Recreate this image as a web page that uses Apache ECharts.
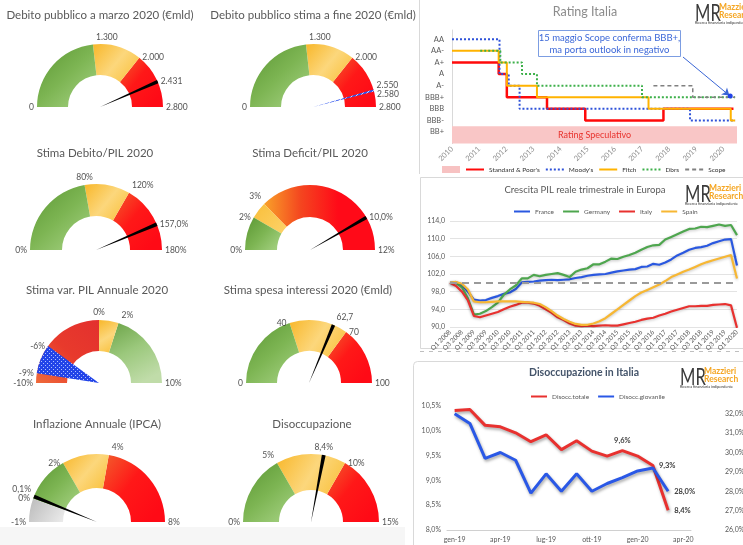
<!DOCTYPE html>
<html><head><meta charset="utf-8">
<script src="https://cdn.jsdelivr.net/npm/echarts/dist/echarts.min.js"></script>
<style>html,body{margin:0;padding:0;background:#fff;}#chart{width:743px;height:545px;}</style>
</head><body><div id="chart"></div>
<script>
// ================= DATA =================
const gaugeTitles = ['Debito pubblico a marzo 2020 (€mld)', 'Debito pubblico stima a fine 2020 (€mld)',
  'Stima Debito/PIL 2020', 'Stima Deficit/PIL 2020', 'Stima var. PIL Annuale 2020',
  'Stima spesa interessi 2020 (€mld)', 'Inflazione Annuale (IPCA)', 'Disoccupazione'];

const debMarBands = [0, 1300, 2000, 2800];
const debMarValue = 2431;
const debMarTicks = [0, 1300, 2000, 2431, 2800];
const debMarTickText = ['0', '1.300', '2.000', '2.431', '2.800'];

const debFineBands = [0, 1300, 2000, 2800];
const debFineRange = [2550, 2580];
const debFineTicks = [0, 1300, 2000, 2550, 2580, 2800];
const debFineTickText = ['0', '1.300', '2.000', '2.550', '2.580', '2.800'];

const debPilBands = [0, 80, 120, 180];
const debPilValue = 157;
const debPilTicks = [0, 80, 120, 157, 180];
const debPilTickText = ['0%', '80%', '120%', '157,0%', '180%'];

const defPilBands = [0, 2, 3, 12];
const defPilValue = 10;
const defPilTicks = [0, 2, 3, 10, 12];
const defPilTickText = ['0%', '2%', '3%', '10,0%', '12%'];

const pilVarBands = [-10, 0, 2, 10];
const pilVarRange = [-9, -6];
const pilVarTicks = [-10, -9, -6, 0, 2, 10];
const pilVarTickText = ['-10%', '-9%', '-6%', '0%', '2%', '10%'];

const intBands = [0, 40, 70, 100];
const intValue = 62.7;
const intTicks = [0, 40, 62.7, 70, 100];
const intTickText = ['0', '40', '62,7', '70', '100'];

const ipcaBands = [-1, 0, 2, 4, 8];
const ipcaValue = 0.1;
const ipcaTicks = [-1, 0, 0.1, 2, 4, 8];
const ipcaTickText = ['-1%', '0%', '0,1%', '2%', '4%', '8%'];

const disBands = [0, 5, 10, 15];
const disValue = 8.4;
const disTicks = [0, 5, 8.4, 10, 15];
const disTickText = ['0%', '5%', '8,4%', '10%', '15%'];

// Rating Italia
const ratingLevels = ['', 'BB+', 'BBB-', 'BBB', 'BBB+', 'A-', 'A', 'A+', 'AA-', 'AA'];
const spDates = [2010, 2011.72, 2012.02, 2013.5, 2014.91, 2017.79, 2020.37];
const spRatings = ['A+', 'A', 'BBB+', 'BBB', 'BBB-', 'BBB', 'BBB'];
const moodysDates = [2010, 2011.75, 2012.09, 2012.49, 2018.77, 2020.43];
const moodysRatings = ['AA', 'A', 'A-', 'BBB', 'BBB-', 'BBB-'];
const fitchDates = [2010, 2011.72, 2012.02, 2013.13, 2017.24, 2020.27, 2020.43];
const fitchRatings = ['AA-', 'A+', 'A-', 'BBB+', 'BBB', 'BBB-', 'BBB-'];
const dbrsDates = [2011.04, 2011.78, 2012.58, 2013.13, 2017.0, 2020.43];
const dbrsRatings = ['AA-', 'A+', 'A', 'A-', 'BBB+', 'BBB+'];
const scopeDates = [2017.42, 2018.87, 2020.43];
const scopeRatings = ['A-', 'BBB+', 'BBB+'];
const speculativeTop = 1.5;
const ratingYears = [2010, 2020.5];

// Crescita PIL
const quarters = ['Q1 2008','Q2 2008','Q3 2008','Q4 2008','Q1 2009','Q2 2009','Q3 2009','Q4 2009',
  'Q1 2010','Q2 2010','Q3 2010','Q4 2010','Q1 2011','Q2 2011','Q3 2011','Q4 2011',
  'Q1 2012','Q2 2012','Q3 2012','Q4 2012','Q1 2013','Q2 2013','Q3 2013','Q4 2013',
  'Q1 2014','Q2 2014','Q3 2014','Q4 2014','Q1 2015','Q2 2015','Q3 2015','Q4 2015',
  'Q1 2016','Q2 2016','Q3 2016','Q4 2016','Q1 2017','Q2 2017','Q3 2017','Q4 2017',
  'Q1 2018','Q2 2018','Q3 2018','Q4 2018','Q1 2019','Q2 2019','Q3 2019','Q4 2019','Q1 2020'];
const france = [100.0,100.1,99.6,98.0,96.2,96.0,96.1,96.6,97.0,97.5,97.8,98.6,100.1,100.2,100.3,100.5,100.6,100.7,100.6,100.7,
  100.8,101.1,101.3,101.6,101.8,101.9,102.0,102.3,102.6,102.8,103.0,103.1,103.6,103.7,104.3,104.1,104.6,105.3,106.2,106.8,
  107.5,107.9,108.1,108.4,109.0,109.4,109.8,109.9,103.9];
const germany = [100.0,100.0,99.0,96.5,92.8,93.0,93.6,94.5,95.5,97.3,98.5,99.4,101.0,101.0,101.8,101.5,101.8,102.0,102.2,101.8,
  101.3,102.5,103.0,103.3,104.2,104.2,104.8,105.5,105.4,105.9,106.3,106.8,107.5,108.1,108.5,108.6,109.8,110.4,111.0,111.6,
  112.2,112.3,112.7,112.6,112.9,113.2,112.9,113.1,110.8];
const italy = [100.0,99.3,98.0,96.0,92.5,92.2,92.6,93.0,93.4,94.0,94.6,95.0,95.5,95.5,95.3,94.8,94.0,93.2,92.2,91.6,
  90.8,90.3,90.2,90.3,90.2,90.3,90.4,90.3,90.3,90.6,90.9,91.2,91.6,91.9,92.1,92.6,93.0,93.5,93.9,94.3,
  94.7,94.7,94.8,94.8,95.0,95.1,95.2,94.9,89.8];
const spain = [100.0,100.2,99.8,98.5,95.8,95.6,95.6,95.7,95.8,95.8,95.8,95.8,95.7,95.6,95.5,95.2,94.5,93.6,92.6,91.8,
  91.2,90.7,90.5,90.5,90.8,91.3,92.0,93.0,94.0,95.0,96.0,97.0,97.8,98.4,99.0,99.6,100.4,101.3,101.9,102.5,
  103.0,103.6,104.2,104.7,105.1,105.5,105.9,106.3,101.0];
const pilBase = 100;

// Disoccupazione in Italia
const months = ['gen-19','feb-19','mar-19','apr-19','mag-19','giu-19','lug-19','ago-19','set-19','ott-19','nov-19','dic-19','gen-20','feb-20','mar-20','apr-20'];
const disoccTotale = [10.41,10.43,10.11,10.08,9.96,9.78,9.92,9.62,9.80,9.59,9.49,9.6,9.49,9.3,8.4];
const disoccGiovanile = [32.0,31.5,29.7,30.0,29.6,27.9,28.9,28.0,28.9,28.0,28.4,28.7,29.05,29.2,28.0];
const totaleLabelIdx = [11, 13, 14];
const giovanileLabelIdx = [14];

// ================= STYLE =================
const FONT = 'Lato, "Noto Sans", sans-serif';
function lg(x, y, x2, y2, cols) {
  return {type: 'linear', x: x, y: y, x2: x2, y2: y2, global: false,
    colorStops: cols.map((c, i) => ({offset: i / (cols.length - 1), color: c}))};
}
const GREEN = lg(0, 0, 1, 1, ['#5A9632', '#7DB553', '#A9D487']);
const YELLOW = lg(0, 0, 1, 1, ['#F8B72A', '#FCD77C', '#F9BE34']);
const RED = lg(0, 0, 1, 0.7, ['#F25E2C', '#FF1818', '#FF0A16']);
const ORANGE_RED = lg(0, 0, 1, 0, ['#F9A129', '#F4451F', '#FF0A18', '#FF0A18']);
const YELLOW_SOFT = lg(0, 0, 1, 1, ['#F9BE3A', '#FCD36A']);
const RED5 = lg(0, 1, 1, 0, ['#EF6A3A', '#E83A2C', '#E3302E']);
const GREEN5 = lg(0, 0, 0.6, 1, ['#6BA347', '#9BC87C', '#C0DCA9']);
const GRAY = lg(0, 0, 1, 1, ['#BBBBBB', '#EDEDED']);

function dotPattern() {
  const cv = document.createElement('canvas'); cv.width = 4; cv.height = 4;
  const ctx = cv.getContext('2d');
  ctx.fillStyle = '#2244E8'; ctx.fillRect(0, 0, 4, 4);
  ctx.fillStyle = '#AFC0FF'; ctx.fillRect(1, 1, 1, 1); ctx.fillRect(3, 3, 1, 1);
  return {image: cv, repeat: 'repeat'};
}
function hatchPattern() {
  const cv = document.createElement('canvas'); cv.width = 4; cv.height = 4;
  const ctx = cv.getContext('2d');
  ctx.fillStyle = '#2F55EE'; ctx.fillRect(0, 0, 4, 4);
  ctx.fillStyle = '#C9D4FF'; ctx.fillRect(0, 3, 1, 1); ctx.fillRect(1, 2, 1, 1); ctx.fillRect(2, 1, 1, 1); ctx.fillRect(3, 0, 1, 1);
  return {image: cv, repeat: 'repeat'};
}

const gauges = [
  {bands: debMarBands, needle: debMarValue, ticks: debMarTicks, text: debMarTickText},
  {bands: debFineBands, range: debFineRange, ticks: debFineTicks, text: debFineTickText},
  {bands: debPilBands, needle: debPilValue, ticks: debPilTicks, text: debPilTickText},
  {bands: defPilBands, needle: defPilValue, ticks: defPilTicks, text: defPilTickText},
  {bands: pilVarBands, range: pilVarRange, ticks: pilVarTicks, text: pilVarTickText},
  {bands: intBands, needle: intValue, ticks: intTicks, text: intTickText},
  {bands: ipcaBands, needle: ipcaValue, ticks: ipcaTicks, text: ipcaTickText},
  {bands: disBands, needle: disValue, ticks: disTicks, text: disTickText}
];
const gaugeLayout = [
  {tx: 100, ty: 15, c: [100, 107], r: 63, w: 31, colors: [GREEN, YELLOW, RED], pos: ['left', 'insideBottomLeft', 'right', 'right', 'right']},
  {tx: 313, ty: 15, c: [313, 107], r: 63, w: 31, colors: [GREEN, YELLOW, RED], pos: ['left', 'insideBottomLeft', 'right', 'right', 'right', 'right'], off: [null, null, null, [0, -4], [0, 3], null], fill: hatchPattern()},
  {tx: 95, ty: 153, c: [96, 250], r: 66, w: 32, colors: [GREEN, YELLOW, RED], pos: ['left', 'top', 'insideBottomLeft', 'right', 'right']},
  {tx: 310, ty: 153, c: [310, 250], r: 65, w: 32, colors: [GREEN, YELLOW_SOFT, ORANGE_RED], pos: ['left', 'left', 'insideBottomRight', 'right', 'right']},
  {tx: 97, ty: 290, c: [99, 383], r: 63, w: 31, colors: [RED5, YELLOW, GREEN5], pos: ['left', 'left', 'left', 'top', 'insideBottomLeft', 'right'], fill: dotPattern()},
  {tx: 308, ty: 290, c: [309, 383], r: 63, w: 31, colors: [GREEN, YELLOW, RED], pos: ['left', 'left', 'insideBottomLeft', 'right', 'right']},
  {tx: 97, ty: 424, c: [97, 522], r: 68, w: 34, colors: [GRAY, GREEN, YELLOW, RED], pos: ['left', 'left', 'insideBottomRight', 'left', 'insideBottomLeft', 'right']},
  {tx: 312, ty: 424, c: [311, 522], r: 68, w: 36, colors: [GREEN, YELLOW, RED], pos: ['left', 'insideBottomRight', 'top', 'right', 'right']}
];

const series = [], polar = [], angleAxis = [], radiusAxis = [];
gauges.forEach((g, i) => {
  const L = gaugeLayout[i];
  const min = g.bands[0], max = g.bands[g.bands.length - 1], span = max - min;
  const frac = v => (v - min) / span;
  const common = {type: 'gauge', center: L.c, radius: L.r, startAngle: 180, endAngle: 0, min: min, max: max,
    splitNumber: 1, silent: true, animation: false,
    splitLine: {show: false}, axisTick: {show: false}, axisLabel: {show: false}, pointer: {show: false},
    anchor: {show: false}, progress: {show: false}, title: {show: false}, detail: {show: false},
    data: [{value: min}]};
  series.push(Object.assign({}, common, {z: 2,
    axisLine: {lineStyle: {width: L.w, color: g.bands.slice(1).map((b, k) => [frac(b), L.colors[k]])}}}));
  let from, to, col;
  if (g.range) { from = g.range[0]; to = g.range[1]; col = L.fill; }
  else { from = g.needle - 0.009 * span; to = g.needle + 0.009 * span; col = '#000000'; }
  series.push(Object.assign({}, common, {z: 3,
    axisLine: {lineStyle: {width: L.r, color: [[frac(from), 'rgba(0,0,0,0)'], [frac(to), col], [1, 'rgba(0,0,0,0)']]}}}));
  polar.push({center: L.c, radius: L.r});
  angleAxis.push({polarIndex: i, type: 'value', min: min, max: min + 2 * span, startAngle: 180, clockwise: true,
    show: false, axisLine: {show: false}, axisTick: {show: false}, axisLabel: {show: false}, splitLine: {show: false}});
  radiusAxis.push({polarIndex: i, type: 'value', min: 0, max: 1, show: false,
    axisLine: {show: false}, axisTick: {show: false}, axisLabel: {show: false}, splitLine: {show: false}});
  series.push({type: 'scatter', coordinateSystem: 'polar', polarIndex: i, symbolSize: 0, z: 5, silent: true, animation: false,
    label: {show: true, fontSize: 8.5, color: '#1f1f1f', distance: 3, fontFamily: FONT, formatter: '{b}'},
    data: g.ticks.map((v, k) => ({value: [1, v], name: g.text[k],
      label: {position: L.pos[k], offset: (L.off && L.off[k]) || [0, 0]}}))});
});

// ---------- Rating Italia ----------
const lvl = r => ratingLevels.indexOf(r);
const stepData = (d, r) => d.map((x, k) => [x, lvl(r[k])]);
const ratingLine = (name, d, r, color, width, type) => ({
  name: name, type: 'line', xAxisIndex: 0, yAxisIndex: 0, step: 'end', symbol: 'none', z: 3,
  lineStyle: {color: color, width: width, type: type}, itemStyle: {color: color}, data: stepData(d, r)});
series.push({name: 'Rating Speculativo', type: 'line', xAxisIndex: 0, yAxisIndex: 0, data: [], symbol: 'none', z: 1,
  itemStyle: {color: '#F7C2C2'},
  markArea: {silent: true, itemStyle: {color: '#F9C6C6'},
    label: {show: true, position: 'inside', color: '#E8332E', fontSize: 9, fontFamily: FONT},
    data: [[{name: 'Rating Speculativo', coord: [ratingYears[0], 0]}, {coord: [ratingYears[1], speculativeTop]}]]}});
series.push(ratingLine("Standard & Poor's", spDates, spRatings, '#FF0A0A', 2.5, 'solid'));
series.push(ratingLine("Moody's", moodysDates, moodysRatings, '#2E52D9', 2, [2, 2]));
series.push(ratingLine('Fitch', fitchDates, fitchRatings, '#FFB300', 2, 'solid'));
series.push(ratingLine('Dbrs', dbrsDates, dbrsRatings, '#3DB04A', 2, [2, 2]));
const scope = ratingLine('Scope', scopeDates, scopeRatings, '#808080', 1.5, [4, 3]);
scope.markLine = {silent: true, symbol: ['none', 'arrow'], symbolSize: 7, label: {show: false},
  lineStyle: {color: '#3A66D6', width: 1, type: 'solid'},
  data: [[{coord: [2018.51, 7.47]}, {coord: [2020.22, 4.15]}]]};
scope.markPoint = {silent: true, symbol: 'circle', symbolSize: 5, itemStyle: {color: '#2244E8'}, label: {show: false},
  data: [{coord: [2020.25, 4.1]}]};
series.push(scope);

// ---------- Crescita PIL ----------
const pilLine = (name, data, color) => ({name: name, type: 'line', xAxisIndex: 1, yAxisIndex: 1, data: data, symbol: 'none',
  z: 3, lineStyle: {color: color, width: 2.2, shadowColor: 'rgba(0,0,0,0.25)', shadowBlur: 3, shadowOffsetY: 1}, itemStyle: {color: color}});
const fr = pilLine('France', france, '#2A58E0');
fr.markLine = {silent: true, symbol: 'none', label: {show: false},
  lineStyle: {color: '#9A9A9A', width: 2, type: [7, 5]}, data: [{yAxis: pilBase}]};
series.push(fr);
series.push(pilLine('Germany', germany, '#4EA64E'));
series.push(pilLine('Italy', italy, '#E8312F'));
series.push(pilLine('Spain', spain, '#F7B733'));

// ---------- Disoccupazione ----------
const pctFmt = p => p.value.toFixed(1).replace('.', ',') + '%';
const disLine = (name, data, idx, color, yIdx) => ({name: name, type: 'line', xAxisIndex: 2, yAxisIndex: yIdx,
  symbol: 'circle', symbolSize: 0, showSymbol: true, z: 3,
  lineStyle: {color: color, width: 3, shadowColor: 'rgba(0,0,0,0.35)', shadowBlur: 3, shadowOffsetX: 1, shadowOffsetY: 2},
  itemStyle: {color: color},
  label: {show: false, fontSize: 7.5, fontWeight: 'bold', color: '#404040', fontFamily: FONT, formatter: pctFmt, distance: 6},
  data: data.map((v, k) => idx.indexOf(k) >= 0 ? {value: v, label: {show: true, position: (name === 'Disocc.totale' && k === 11) ? 'top' : 'right'}} : v)});
series.push(disLine('Disocc.totale', disoccTotale, totaleLabelIdx, '#E8312F', 2));
series.push(disLine('Disocc.giovanile', disoccGiovanile, giovanileLabelIdx, '#2A58E6', 3));

// ---------- graphics ----------
const graphics = [];
graphics.push({type: 'rect', shape: {x: 0, y: 527, width: 405, height: 18}, style: {fill: '#F6F6F6'}, z: 0});
gaugeTitles.forEach((t, i) => graphics.push({type: 'text', x: gaugeLayout[i].tx, y: gaugeLayout[i].ty, z: 10,
  style: {text: t, font: '11.5px ' + FONT, fill: '#595959', align: 'center', verticalAlign: 'middle'}}));
graphics.push({type: 'line', shape: {x1: 419.5, y1: 0, x2: 419.5, y2: 174}, style: {stroke: '#D9D9D9', lineWidth: 1}});
graphics.push({type: 'rect', shape: {x: 420.5, y: 177.5, width: 330, height: 171}, style: {fill: 'none', stroke: '#D9D9D9', lineWidth: 1}});
graphics.push({type: 'line', shape: {x1: 420, y1: 351.5, x2: 743, y2: 351.5}, style: {stroke: '#BFBFBF', lineWidth: 1, lineDash: [4, 5]}});
graphics.push({type: 'rect', shape: {x: 413.5, y: 361.5, width: 340, height: 200, r: 4}, style: {fill: 'none', stroke: '#D9D9D9', lineWidth: 1}});
graphics.push({type: 'text', x: 585, y: 12, style: {text: 'Rating Italia', font: '12.5px ' + FONT, fill: '#8C8C8C', align: 'center', verticalAlign: 'middle'}});
graphics.push({type: 'text', x: 585, y: 190, style: {text: 'Crescita PIL reale trimestrale in Europa', font: '9.5px ' + FONT, fill: '#595959', align: 'center', verticalAlign: 'middle'}});
graphics.push({type: 'text', x: 584, y: 373, style: {text: 'Disoccupazione in Italia', font: 'bold 10.5px ' + FONT, fill: '#44546A', align: 'center', verticalAlign: 'middle'}});
function logo(x, y) {
  graphics.push({type: 'text', x: x, y: y, scaleX: 0.72, style: {text: 'MR', font: '23px ' + FONT, fill: '#3A3A3A', verticalAlign: 'top'}});
  graphics.push({type: 'text', x: x + 24, y: y + 1, style: {text: 'Mazzieri\nResearch', font: 'bold 8.5px ' + FONT, fill: '#F5A623', lineHeight: 8.5, verticalAlign: 'top'}});
  graphics.push({type: 'text', x: x, y: y + 19, style: {text: 'Ricerca finanziaria indipendente', font: '3.8px ' + FONT, fill: '#333', verticalAlign: 'top'}});
}
logo(695, 2); logo(685, 183); logo(680, 366);
graphics.push({type: 'rect', z: 20, shape: {x: 538.5, y: 30.5, width: 142, height: 26}, style: {fill: '#fff', stroke: '#7C9DE2', lineWidth: 1}});
graphics.push({type: 'text', z: 21, x: 609.5, y: 43.5, style: {text: '15 maggio Scope conferma BBB+,\nma porta outlook in negativo', font: '9.5px ' + FONT, fill: '#3B67D8', align: 'center', verticalAlign: 'middle', lineHeight: 12}});

const axisTxt = (size, color) => ({fontSize: size, color: color, fontFamily: FONT});

const option = {
  animation: false,
  backgroundColor: '#ffffff',
  textStyle: {fontFamily: FONT},
  polar: polar, angleAxis: angleAxis, radiusAxis: radiusAxis,
  grid: [
    {left: 452, top: 30, width: 285, height: 113.6, containLabel: false, outerBoundsMode: 'none'},
    {left: 450, top: 221, width: 287, height: 106, containLabel: false, outerBoundsMode: 'none'},
    {left: 447, top: 406, width: 244, height: 124, containLabel: false, outerBoundsMode: 'none'}
  ],
  xAxis: [
    {gridIndex: 0, type: 'value', min: ratingYears[0], max: ratingYears[1], interval: 1,
      axisLine: {show: false}, axisTick: {show: false}, splitLine: {show: false},
      axisLabel: Object.assign(axisTxt(7.5, '#8C8C8C'), {rotate: 45, margin: 4, formatter: v => Number.isInteger(v) ? String(v) : ''})},
    {gridIndex: 1, type: 'category', data: quarters, boundaryGap: false,
      axisLine: {show: false}, axisTick: {show: false}, splitLine: {show: false},
      axisLabel: Object.assign(axisTxt(6.5, '#595959'), {rotate: 45, margin: 4, interval: 1})},
    {gridIndex: 2, type: 'category', data: months, boundaryGap: true,
      axisLine: {show: true, lineStyle: {color: '#D0D0D0'}}, axisTick: {show: false}, splitLine: {show: false},
      axisLabel: Object.assign(axisTxt(7, '#595959'), {interval: 2, margin: 6})}
  ],
  yAxis: [
    {gridIndex: 0, type: 'value', min: 0, max: 9.8, interval: 1,
      axisLine: {show: true, lineStyle: {color: '#D9D9D9'}}, axisTick: {show: false}, splitLine: {show: false},
      axisLabel: Object.assign(axisTxt(7.5, '#595959'), {margin: 8, formatter: v => ratingLevels[v] || ''})},
    {gridIndex: 1, type: 'value', min: 90, max: 114, interval: 4,
      axisLine: {show: false}, axisTick: {show: false}, splitLine: {show: true, lineStyle: {color: '#E3E3E3'}},
      axisLabel: Object.assign(axisTxt(7, '#595959'), {margin: 5, formatter: v => v.toFixed(1).replace('.', ',')})},
    {gridIndex: 2, type: 'value', min: 8, max: 10.5, interval: 0.5,
      axisLine: {show: false}, axisTick: {show: false}, splitLine: {show: false},
      axisLabel: Object.assign(axisTxt(7, '#595959'), {margin: 6, formatter: v => v.toFixed(1).replace('.', ',') + '%'})},
    {gridIndex: 2, type: 'value', position: 'right', min: 26, max: 32.4, interval: 1,
      axisLine: {show: false}, axisTick: {show: false}, splitLine: {show: false},
      axisLabel: Object.assign(axisTxt(7, '#595959'), {margin: 34, formatter: v => Number.isInteger(v) ? v.toFixed(1).replace('.', ',') + '%' : ''})}
  ],
  legend: [
    {left: 437, top: 161, width: 320, itemWidth: 18, itemHeight: 7, itemGap: 5, textStyle: axisTxt(6.5, '#333'),
      itemStyle: {opacity: 0},
      data: [{name: 'Rating Speculativo', icon: 'rect', itemStyle: {opacity: 1}}, "Standard & Poor's", "Moody's", 'Fitch', 'Dbrs', 'Scope'],
      formatter: n => n === 'Rating Speculativo' ? '' : n},
    {left: 508, top: 203, itemWidth: 16, itemHeight: 6, itemGap: 8, textStyle: axisTxt(6.5, '#595959'),
      itemStyle: {opacity: 0}, data: ['France', 'Germany', 'Italy', 'Spain']},
    {left: 525, top: 388, itemWidth: 16, itemHeight: 6, itemGap: 8, textStyle: axisTxt(6.5, '#595959'),
      itemStyle: {opacity: 0}, data: ['Disocc.totale', 'Disocc.giovanile']}
  ],
  graphic: {elements: graphics},
  series: series
};
const chart = echarts.init(document.getElementById('chart'), null, {renderer: 'canvas', width: 743, height: 545});
chart.setOption(option);
</script></body></html>
